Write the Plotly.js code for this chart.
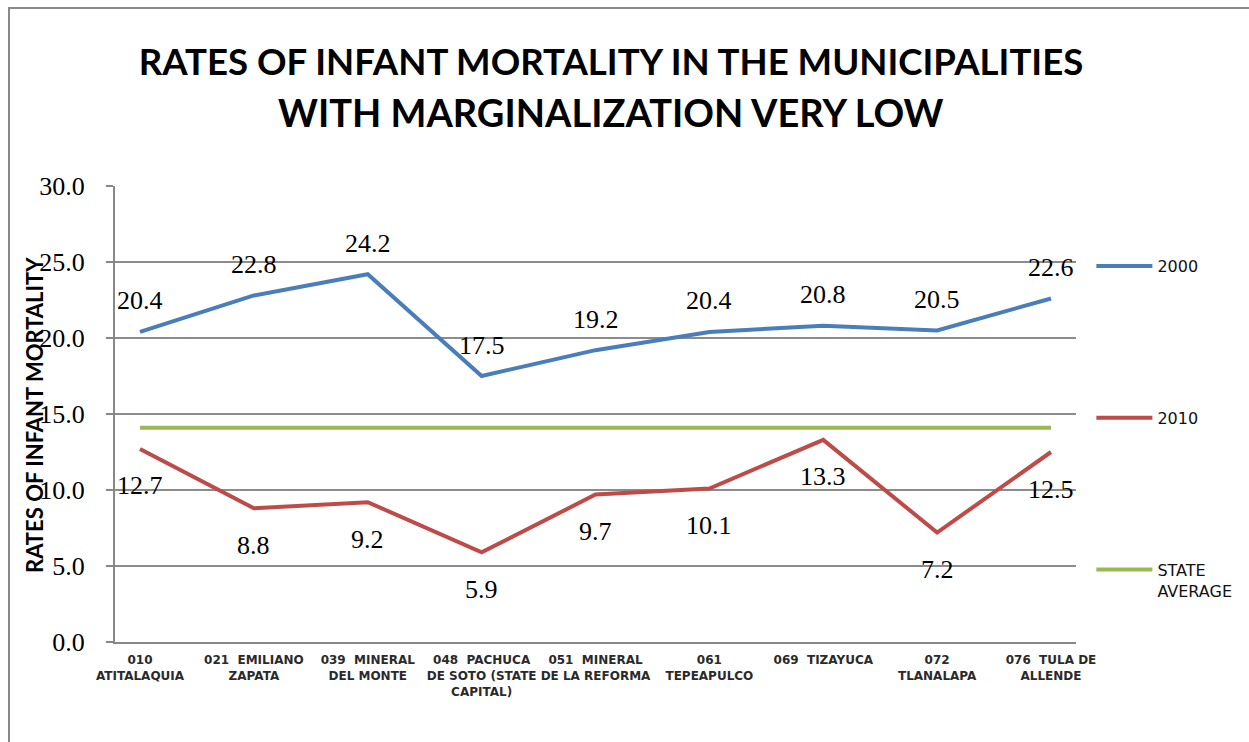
<!DOCTYPE html>
<html>
<head>
<meta charset="utf-8">
<script src="https://cdn.plot.ly/plotly-3.0.1.min.js"></script>
<style>
html,body{margin:0;padding:0;background:#fff;overflow:hidden;}
#wrap{position:relative;width:1249px;height:742px;overflow:hidden;}
#chart{width:1249px;height:742px;}
#frame{position:absolute;left:8px;top:7px;width:1300px;height:800px;border:2px solid #888;pointer-events:none;z-index:10;box-sizing:border-box;}
</style>
</head>
<body>
<div id="wrap"><div id="chart"></div><div id="frame"></div></div>
<script>
const categories = [
  "010<br>ATITALAQUIA",
  "021\u00a0\u00a0EMILIANO<br>ZAPATA",
  "039\u00a0\u00a0MINERAL<br>DEL MONTE",
  "048\u00a0\u00a0PACHUCA<br>DE SOTO (STATE<br>CAPITAL)",
  "051\u00a0\u00a0MINERAL<br>DE LA REFORMA",
  "061<br>TEPEAPULCO",
  "069\u00a0\u00a0TIZAYUCA",
  "072<br>TLANALAPA",
  "076\u00a0\u00a0TULA DE<br>ALLENDE"
];
const values2000 = [20.4, 22.8, 24.2, 17.5, 19.2, 20.4, 20.8, 20.5, 22.6];
const values2010 = [12.7, 8.8, 9.2, 5.9, 9.7, 10.1, 13.3, 7.2, 12.5];
const stateAverage = [14.1, 14.1, 14.1, 14.1, 14.1, 14.1, 14.1, 14.1, 14.1];
const yTickValues = [0, 5, 10, 15, 20, 25, 30];
const titleLine1 = "RATES OF INFANT MORTALITY IN THE MUNICIPALITIES";
const titleLine2 = "WITH MARGINALIZATION VERY LOW";
const yTitle = "RATES OF INFANT MORTALITY";

const labelFont = {family: "Liberation Serif", size: 26, color: "#000"};
const titleFont = {family: "Lato", size: 36.6, color: "#000", weight: "bold"};

const annotations = [];
values2000.forEach((v, i) => annotations.push({
  x: categories[i], y: v, xref: "x", yref: "y", text: v.toFixed(1),
  showarrow: false, yshift: 31, xanchor: "center", yanchor: "middle", font: labelFont
}));
values2010.forEach((v, i) => annotations.push({
  x: categories[i], y: v, xref: "x", yref: "y", text: v.toFixed(1),
  showarrow: false, yshift: -37, xanchor: "center", yanchor: "middle", font: labelFont
}));
annotations.push({
  xref: "paper", yref: "paper", x: (611 - 115) / 961, y: (642 - 112) / 456,
  xanchor: "center", yanchor: "middle", showarrow: false,
  text: titleLine2, font: {family: "Lato", size: 38, color: "#000", weight: "bold"}
});
annotations.push({
  xref: "paper", yref: "paper", x: (34 - 115) / 961, y: (642 - 415) / 456,
  xanchor: "center", yanchor: "middle", showarrow: false, textangle: -90,
  text: yTitle, font: {family: "Lato", size: 22, color: "#000", weight: "bold"}
});

const traces = [
  {x: categories, y: values2000, name: "2000", type: "scatter", mode: "lines",
   line: {color: "#4A7EBB", width: 4}, legendgroup: "a"},
  {x: categories, y: values2010, name: "2010", type: "scatter", mode: "lines",
   line: {color: "#BE4B48", width: 4}, legendgroup: "b"},
  {x: categories, y: stateAverage, name: "STATE<br>AVERAGE", type: "scatter", mode: "lines",
   line: {color: "#98B954", width: 4}, legendgroup: "c"}
];

const layout = {
  width: 1249, height: 742,
  margin: {l: 115, r: 173, t: 186, b: 100},
  paper_bgcolor: "#fff", plot_bgcolor: "#fff",
  title: {
    text: titleLine1, font: titleFont,
    x: (611 - 115) / 961, xanchor: "center", xref: "paper",
    y: 1 - 62 / 742, yanchor: "middle", yref: "container"
  },
  xaxis: {
    type: "category",
    showline: true, linecolor: "#888", linewidth: 2,
    showgrid: false, zeroline: false, ticks: "",
    ticklabelstandoff: 6,
    tickfont: {family: "DejaVu Sans", size: 12, color: "#2a2a2a", weight: "bold"},
    tickangle: 0, automargin: false
  },
  yaxis: {
    range: [0, 30], tickvals: yTickValues, tickformat: ".1f",
    showline: true, linecolor: "#888", linewidth: 2,
    showgrid: true, gridcolor: "#8c8c8c", gridwidth: 1.5, zeroline: false,
    ticks: "outside", ticklen: 7, tickcolor: "#888", tickwidth: 1.5,
    ticklabelstandoff: 16,
    tickfont: {family: "Liberation Serif", size: 26, color: "#000"},
    automargin: false
  },
  legend: {
    x: 1.016, xanchor: "left", y: (642 - 249) / 456, yanchor: "top",
    font: {family: "DejaVu Sans", size: 16, color: "#111"},
    tracegroupgap: 128, valign: "top", itemwidth: 56,
    bgcolor: "rgba(0,0,0,0)"
  },
  annotations: annotations
};

Plotly.newPlot("chart", traces, layout, {displayModeBar: false, staticPlot: true});
</script>
</body>
</html>
